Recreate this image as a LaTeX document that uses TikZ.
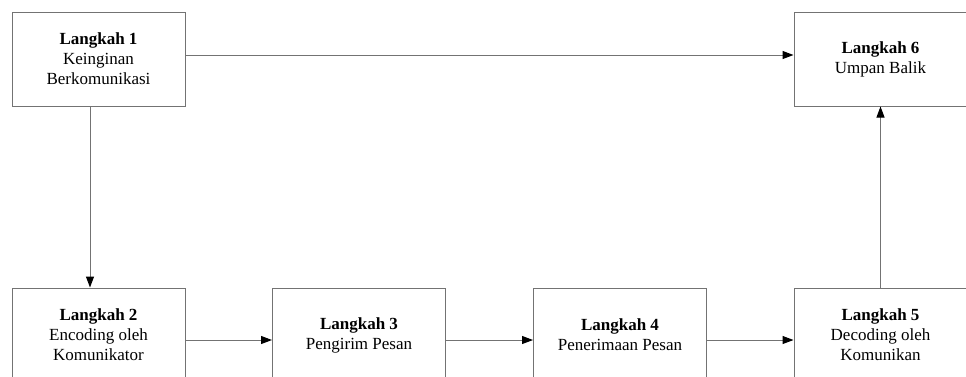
\documentclass[tikz,border=0pt]{standalone}
\usepackage{fontspec}
\setmainfont{Liberation Serif}
\usetikzlibrary{arrows.meta}

\begin{document}
\begin{tikzpicture}[x=1pt, y=-1pt,
    every node/.style={rectangle, draw=black!55, line width=1pt, minimum width=173pt, minimum height=94pt,
      align=center, font=\fontsize{17}{20}\selectfont},
    link/.style={draw=black!55, line width=1pt, -{Triangle[length=11pt, width=8pt, color=black]}}]
      \useasboundingbox (0, 0) rectangle (966, 376);
      \node(1) at (98.5, 59) {\textbf{Langkah 1}\\Keinginan\\Berkomunikasi};
      \node(2) at (98.5, 335) {\textbf{Langkah 2}\\Encoding oleh\\Komunikator};
      \node(3) at (359, 335) {\textbf{Langkah 3}\\Pengirim Pesan};
      \node(4) at (620, 335) {\textbf{Langkah 4}\\Penerimaan Pesan};
      \node(5) at (880.5, 335) {\textbf{Langkah 5}\\Decoding oleh\\Komunikan};
      \node(6) at (880.5, 59) {\textbf{Langkah 6}\\Umpan Balik};
      \draw[link] ([yshift=4pt]1.east) -- ([yshift=4pt]6.west);
      \draw[link] ([xshift=-8.5pt]1.south) -- ([xshift=-8.5pt]2.north);
      \draw[link] ([yshift=-5pt]2.east) -- ([yshift=-5pt]3.west);
      \draw[link] ([yshift=-5pt]3.east) -- ([yshift=-5pt]4.west);
      \draw[link] ([yshift=-5pt]4.east) -- ([yshift=-5pt]5.west);
      \draw[link] (5.north) -- (6.south);
    \end{tikzpicture}
\end{document}
